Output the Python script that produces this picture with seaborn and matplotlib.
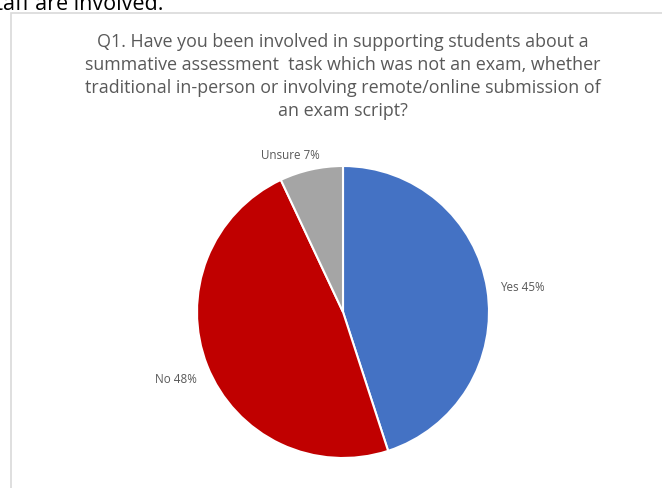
import matplotlib
matplotlib.use("Agg")
import matplotlib.pyplot as plt
import seaborn as sns
import numpy as np
from matplotlib.patches import Rectangle

# Survey responses
categories = ["Yes", "No", "Unsure"]
shares = [45, 48, 7]
colors = ["#4472C4", "#C00000", "#A5A5A5"]

title = ("Q1. Have you been involved in supporting students about a\n"
         "summative assessment  task which was not an exam, whether\n"
         "traditional in-person or involving remote/online submission of\n"
         "an exam script?")
heading = "staff are involved."

sns.set_theme(style="white")
plt.rcParams["font.family"] = ["Open Sans", "DejaVu Sans"]

W, H = 662, 489
fig = plt.figure(figsize=(W / 100, H / 100), dpi=100)
fig.patch.set_facecolor("white")

# Chart frame (only top and left edges are inside the canvas)
fig.patches.append(Rectangle((11 / W, -0.1), 1.2, 1.1 - 14 / H,
                             transform=fig.transFigure, fill=False,
                             edgecolor="#D9D9D9", linewidth=1.2))

# Body text above the chart, partially clipped by the canvas edge
fig.text(-15 / W, 1 - 4.5 / H, heading, fontsize=15.5, color="black",
         ha="left", va="center")

fig.text(343 / W, 1 - 76.5 / H, title, fontsize=12.85, color="#595959",
         ha="center", va="center", linespacing=1.36)

cx, cy, r = 343, H - 313, 146
ax = fig.add_axes([(cx - r) / W, (cy - r) / H, 2 * r / W, 2 * r / H])
wedges, _ = ax.pie(shares, colors=colors, startangle=90, counterclock=False,
                   wedgeprops=dict(edgecolor="white", linewidth=1.5))
ax.set_xlim(-1, 1)
ax.set_ylim(-1, 1)
ax.set_aspect("equal")
ax.axis("off")

# Data labels placed outside each wedge
label_dist = [1.24, 1.23, 1.14]
label_shift = [-1, 0, 6]
for w, cat, val, d, s in zip(wedges, categories, shares, label_dist, label_shift):
    ang = np.deg2rad((w.theta1 + w.theta2) / 2 + s)
    ax.text(d * np.cos(ang), d * np.sin(ang), f"{cat} {val}%",
            ha="center", va="center", fontsize=8.4, color="#595959",
            clip_on=False)

fig.savefig("out.png", dpi=100)
